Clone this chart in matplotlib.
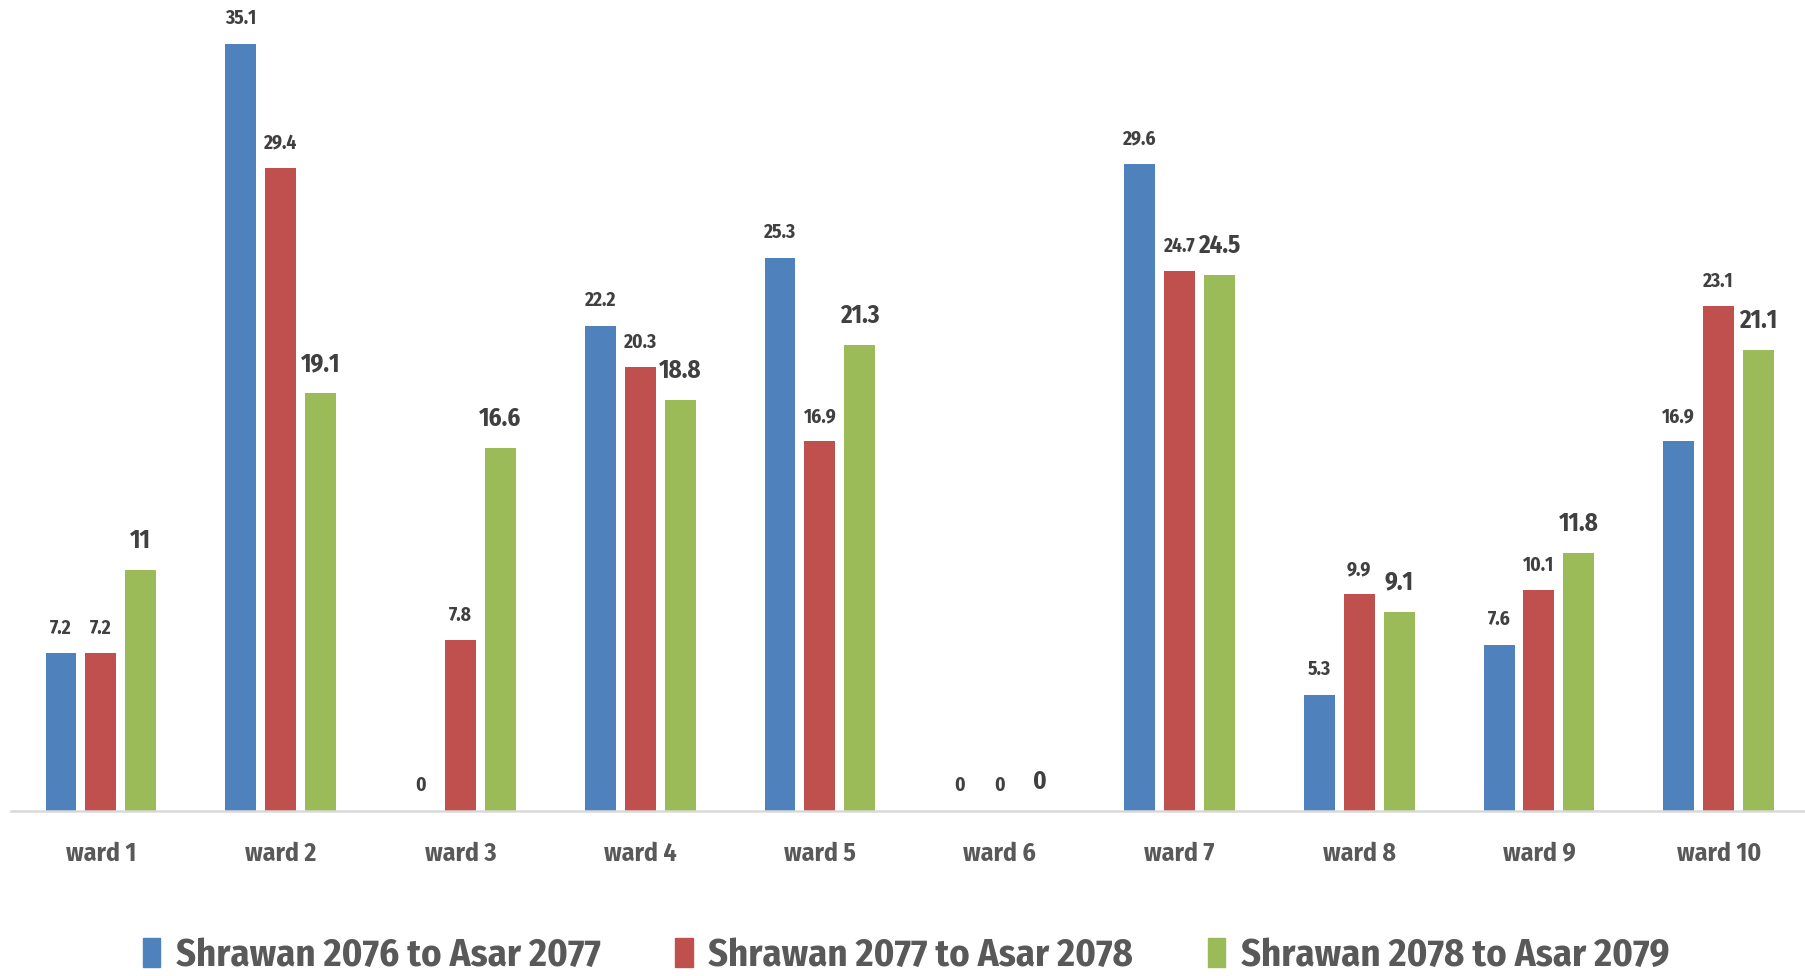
import numpy as np
import matplotlib
matplotlib.use("Agg")
import matplotlib.pyplot as plt
from matplotlib.patches import Patch

plt.rcParams['font.family'] = ['Fira Sans Condensed', 'DejaVu Sans']
plt.rcParams['font.weight'] = 'bold'

wards = ['ward 1', 'ward 2', 'ward 3', 'ward 4', 'ward 5',
         'ward 6', 'ward 7', 'ward 8', 'ward 9', 'ward 10']
series_names = ['Shrawan 2076 to Asar 2077',
                'Shrawan 2077 to Asar 2078',
                'Shrawan 2078 to Asar 2079']
y2077 = [7.2, 35.1, 0, 22.2, 25.3, 0, 29.6, 5.3, 7.6, 16.9]
y2078 = [7.2, 29.4, 7.8, 20.3, 16.9, 0, 24.7, 9.9, 10.1, 23.1]
y2079 = [11, 19.1, 16.6, 18.8, 21.3, 0, 24.5, 9.1, 11.8, 21.1]

colors = ['#4f81bd', '#c0504d', '#9bbb59']
label_sizes = [14, 14, 18]
label_offsets = [18, 18, 21]

fig = plt.figure(figsize=(18.05, 9.76), dpi=100)
ax = fig.add_axes([11 / 1805, 0.1694, 1 - 11 / 1805, 1 - 0.1694])

x = np.arange(len(wards))
step = 0.222
width = 0.172
for i, (vals, col) in enumerate(zip([y2077, y2078, y2079], colors)):
    pos = x + (i - 1) * step
    ax.bar(pos, vals, width=width, color=col, zorder=2)
    for px, v in zip(pos, vals):
        ax.annotate(f"{v:g}", (px, v), xytext=(0, label_offsets[i]),
                    textcoords='offset points', ha='center', va='center',
                    fontsize=label_sizes[i], color='#404040', fontweight='bold')

ax.set_xlim(-0.5, 9.48)
ax.set_ylim(0, 37.1)
for s in ['top', 'right', 'left']:
    ax.spines[s].set_visible(False)
ax.spines['bottom'].set_color('#d9d9d9')
ax.spines['bottom'].set_linewidth(1.8)
ax.set_yticks([])
ax.set_xticks(x)
ax.set_xticklabels(wards, fontsize=18.5, color='#595959', fontweight='bold')
ax.tick_params(axis='x', length=0, pad=22)

handles = [Patch(color=c) for c in colors]
fig.legend(handles, series_names, loc='center', bbox_to_anchor=(0.502, 0.021),
           ncol=3, frameon=False, fontsize=27.8, handlelength=0.45, handleheight=0.8,
           handletextpad=0.4, columnspacing=1.94, labelcolor='#595959')

fig.savefig('out.png', dpi=100)
